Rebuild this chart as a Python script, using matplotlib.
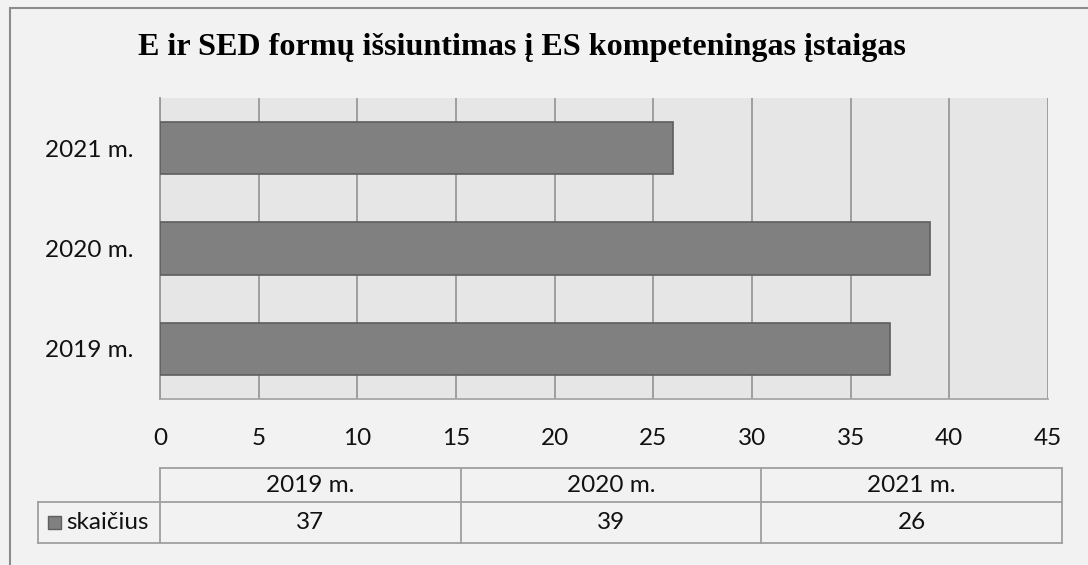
import matplotlib.pyplot as plt
from matplotlib.lines import Line2D
from matplotlib.patches import Rectangle

# data
years = ["2019 m.", "2020 m.", "2021 m."]
counts = [37, 39, 26]
series_name = "skaičius"
title = "E ir SED formų išsiuntimas į ES kompeteningas įstaigas"

W, H = 1088, 565
fig = plt.figure(figsize=(W / 100, H / 100), dpi=100, facecolor="#F2F2F2")

def fx(x):
    return x / W

def fy(y):
    return 1 - y / H

FS = 17.5
TXT = "#111111"

# outer frame (only top and left edges visible in the picture)
fig.add_artist(Rectangle((fx(9.5), fy(600)), fx(1200), fy(8) - fy(600),
                         transform=fig.transFigure, facecolor="none",
                         edgecolor="#8C8C8C", lw=1.5))

fig.text(fx(522), fy(48), title, ha="center", va="center",
         family="Liberation Serif", weight="bold", fontsize=23.1, color="black")

# plot area
ax = fig.add_axes([fx(160), fy(399), fx(1048) - fx(160), fy(98) - fy(399)])
ax.set_facecolor("#E6E6E6")
ypos = range(len(years))
ax.barh(ypos, counts, height=0.52, color="#808080", edgecolor="#5E5E5E", lw=1.2, zorder=3)
ax.set_xlim(0, 45)
ax.set_ylim(-0.5, len(years) - 0.5)
ax.set_xticks(range(0, 46, 5))
ax.set_yticks(list(ypos))
ax.set_yticklabels(years)
ax.grid(axis="x", color="#999999", lw=1.3)
ax.set_axisbelow(True)
for s in ["top", "right"]:
    ax.spines[s].set_visible(False)
ax.spines["left"].set_color("#999999")
ax.spines["bottom"].set_color("#A6A6A6")
ax.spines["left"].set_linewidth(1.3)
ax.spines["bottom"].set_linewidth(1.3)
ax.tick_params(length=0, labelsize=FS, colors=TXT)
ax.tick_params(axis="x", pad=21)
ax.tick_params(axis="y", pad=19)
for lab in ax.get_xticklabels() + ax.get_yticklabels():
    lab.set_family("Lato")

# data table under the axis
tl, tr = 160, 1062
leg_l = 37.5
r0, r1, r2 = 468, 502, 543
ncol = len(years)
cols = [tl + (tr - tl) * i / ncol for i in range(ncol + 1)]
lc = "#A0A0A0"

def hline(x0, x1, y):
    fig.add_artist(Line2D([fx(x0), fx(x1)], [fy(y), fy(y)], transform=fig.transFigure, color=lc, lw=1.3))

def vline(x, y0, y1):
    fig.add_artist(Line2D([fx(x), fx(x)], [fy(y0), fy(y1)], transform=fig.transFigure, color=lc, lw=1.3))

hline(tl, tr, r0)
hline(leg_l, tr, r1)
hline(leg_l, tr, r2)
vline(leg_l, r1, r2)
for c in cols:
    vline(c, r0, r2)

for i, (yr, v) in enumerate(zip(years, counts)):
    cx = (cols[i] + cols[i + 1]) / 2
    fig.text(fx(cx), fy((r0 + r1) / 2), yr, ha="center", va="center",
             family="Lato", fontsize=FS, color=TXT)
    fig.text(fx(cx), fy((r1 + r2) / 2), str(v), ha="center", va="center",
             family="Lato", fontsize=FS, color=TXT)

fig.add_artist(Rectangle((fx(48), fy(529)), fx(13), fy(516) - fy(529),
                         transform=fig.transFigure, facecolor="#808080",
                         edgecolor="#5E5E5E", lw=1))
fig.text(fx(66), fy((r1 + r2) / 2), series_name, ha="left", va="center",
         family="Lato", fontsize=FS, color=TXT)

fig.savefig("out.png", dpi=100, facecolor=fig.get_facecolor())
